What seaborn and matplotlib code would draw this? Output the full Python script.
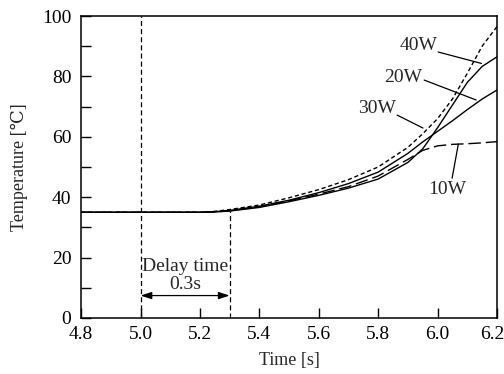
import numpy as np
import pandas as pd
import matplotlib
matplotlib.use("Agg")
import matplotlib.pyplot as plt
from matplotlib import font_manager
from matplotlib.transforms import ScaledTranslation
import seaborn as sns

# Measured temperature curves for each heating power
time_s = [4.8, 5.0, 5.2, 5.25, 5.3, 5.4, 5.5, 5.6, 5.7, 5.8, 5.9, 5.95, 6.0, 6.05, 6.1, 6.15, 6.2]
temp_10w = [35, 35, 35, 35.1, 35.5, 36.8, 38.8, 41.0, 43.5, 47.0, 52.5, 55.5, 57.0, 57.5, 57.7, 58.0, 58.4]
temp_20w = [35, 35, 35, 35.2, 35.6, 37.0, 39.0, 41.5, 44.5, 48.3, 54.5, 58.3, 61.8, 65.3, 69.0, 72.5, 75.5]
temp_30w = [35, 35, 35, 35.3, 35.9, 37.4, 39.8, 42.5, 45.8, 50.0, 56.5, 61.0, 66.0, 72.5, 81.0, 90.0, 96.5]
temp_40w = [35, 35, 35, 35.1, 35.4, 36.6, 38.5, 40.6, 43.0, 46.0, 51.5, 56.0, 63.0, 70.5, 78.0, 83.3, 86.5]
powers = ["10W", "20W", "30W", "40W"]

# Delay between heating onset and temperature rise
t_start = 5.0
t_rise = 5.3
t_base = 35.5

df = pd.concat([
    pd.DataFrame({"time": time_s, "temp": vals, "power": p})
    for p, vals in zip(powers, [temp_10w, temp_20w, temp_30w, temp_40w])
])

sns.set_theme(style="ticks")

# Times-like serif face: prefer Liberation Serif, else matplotlib's bundled STIX
installed = {f.name for f in font_manager.fontManager.ttflist}
serif_face = "Liberation Serif" if "Liberation Serif" in installed else "STIXGeneral"
plt.rcParams["font.family"] = [serif_face, "STIXGeneral", "DejaVu Serif"]
plt.rcParams["mathtext.fontset"] = "stix"

fig = plt.figure(figsize=(5.04, 3.74), dpi=100)
ax = fig.add_axes([0.161, 0.150, 0.825, 0.807])

sns.lineplot(
    data=df, x="time", y="temp", hue="power", style="power",
    palette={p: "black" for p in powers},
    dashes={"10W": (9, 3.5), "20W": "", "30W": (3, 2), "40W": ""},
    lw=1.0, legend=False, ax=ax, sort=True,
)

# Delay-time markers
ax.plot([t_start, t_start], [0, 100], color="black", lw=0.9, ls=(0, (4, 2.5)))
ax.plot([t_rise, t_rise], [0, t_base], color="black", lw=0.9, ls=(0, (4, 2.5)))
ax.annotate("", xy=(t_start, 7.4), xytext=(t_rise, 7.4),
            arrowprops=dict(arrowstyle="<|-|>,head_length=0.55,head_width=0.18",
                            color="black", lw=0.9, shrinkA=0, shrinkB=0))
ax.text((t_start + t_rise) / 2, 17.0, "Delay time", ha="center", va="center", fontsize=14)
ax.text((t_start + t_rise) / 2, 11.2, "0.3s", ha="center", va="center", fontsize=14)

# Curve labels with leader lines
labels = [
    ("40W", (5.935, 90.4), (6.002, 88.1), (6.148, 84.3)),
    ("20W", (5.884, 79.8), (5.955, 78.8), (6.13, 72.2)),
    ("30W", (5.797, 69.5), (5.864, 67.2), (5.951, 62.9)),
    ("10W", (6.032, 42.4), (6.049, 46.3), (6.07, 57.6)),
]
for txt, pos, start, end in labels:
    ax.text(pos[0], pos[1], txt, ha="center", va="center", fontsize=14)
    ax.plot([start[0], end[0]], [start[1], end[1]], color="black", lw=0.9)

xticks = np.arange(4.8, 6.21, 0.2)
ax.set_xlim(4.8, 6.2)
ax.set_ylim(0, 100)
ax.set_xticks(xticks)
ax.set_xticklabels([f"{v:.1f}" for v in xticks])
ax.set_yticks(np.arange(0, 101, 20))
ax.set_yticks(np.arange(10, 100, 20), minor=True)
ax.tick_params(axis="both", which="both", direction="in", length=7, width=1.0,
               labelsize=14, colors="black", top=False, right=False)
ax.tick_params(axis="x", pad=6)
ax.tick_params(axis="y", pad=7)

# keep the last x label inside the figure edge
last = ax.get_xticklabels()[-1]
last.set_transform(last.get_transform() + ScaledTranslation(-5 / 100, 0, fig.dpi_scale_trans))

ax.set_xlabel("Time [s]", fontsize=13, labelpad=6)
ax.set_ylabel("Temperature [℃]", fontsize=13, labelpad=10)
for s in ax.spines.values():
    s.set_visible(True)
    s.set_color("black")
    s.set_linewidth(1.1)

fig.savefig("out.png", dpi=100)
